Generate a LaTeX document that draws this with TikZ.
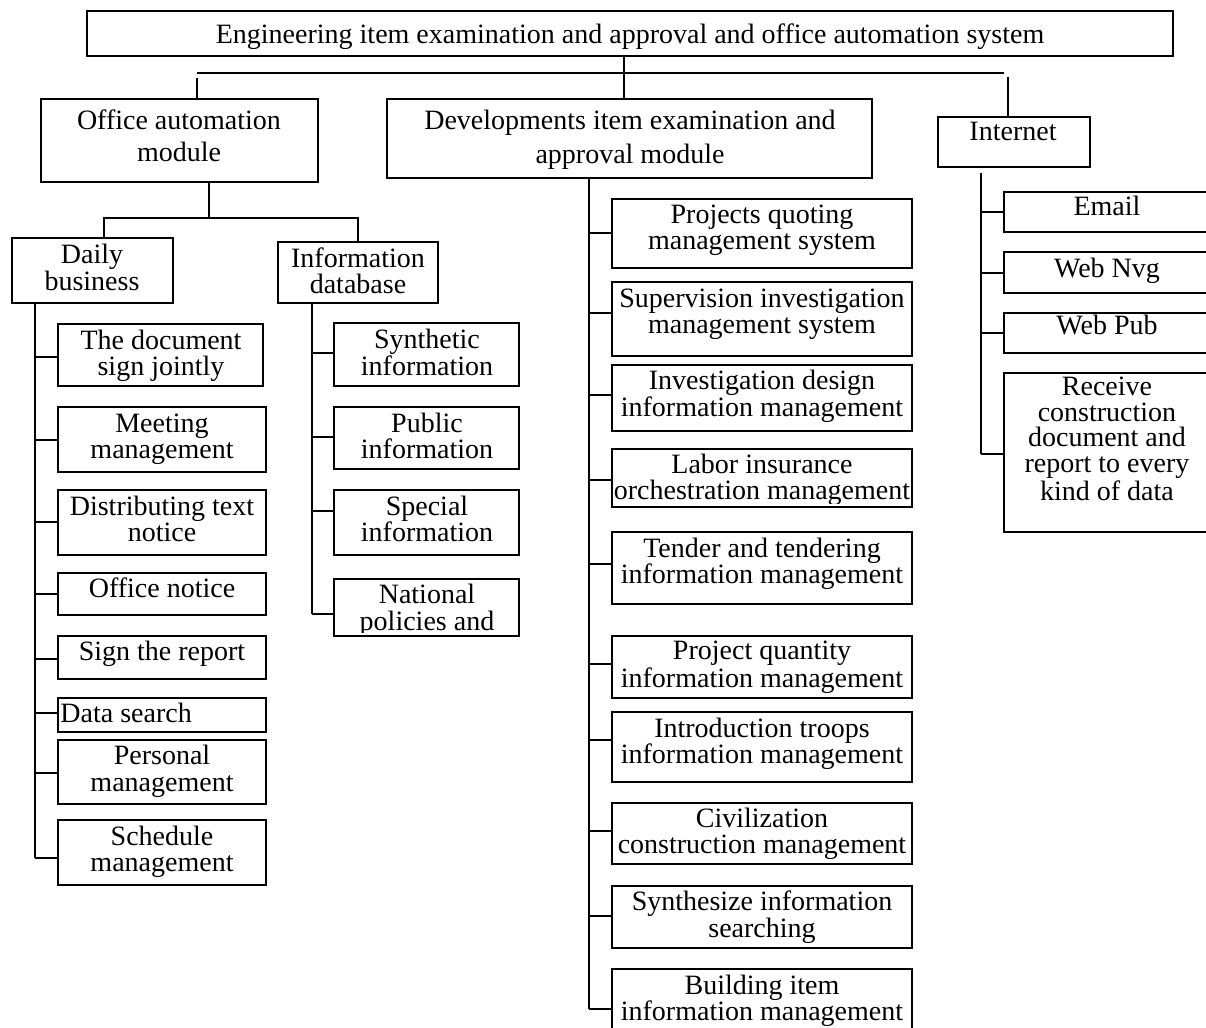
\documentclass[tikz,border=0pt]{standalone}
\usepackage{fontspec}
\setmainfont{Liberation Serif}
\newcommand\mkbox[5]{\node[bx, minimum width={(#4-#2)*0.5pt}, minimum height={(#5-#3)*0.5pt}] (#1) at ({(#2+#4)/2},{(#3+#5)/2}) {};}
\newcommand\mkbr[4]{\coordinate (#1-j) at (#2,#3); \draw[ln] (#1-j) -- (#1-j -| #4.west);}
\begin{document}
\begin{tikzpicture}[x=0.5pt,y=-0.5pt,
  bx/.style={draw, line width=1pt, inner sep=0pt, outer sep=0pt},
  tx/.style={font=\fontsize{14}{13}\selectfont, align=center, anchor=base, inner sep=0pt},
  ln/.style={line width=1pt}]
\useasboundingbox (0,0) rectangle (1206,1028);
\fill[white] (0,0) rectangle (1206,1028);

% ---------- level 0 and 1 boxes (text y = baseline of last line)
\mkbox{top}{87}{11}{1173}{56}
\begin{scope}
\clip (87,11) rectangle (1173,48);
\node[tx] (ttop) at (630,43) {Engineering item examination and approval and office automation system};
\end{scope}

\mkbox{oa}{41}{99}{318}{182}
\node[tx, font=\fontsize{14}{16}\selectfont] (toa) at (179,161) {Office automation\\module};
\mkbox{dev}{387}{99}{872}{178}
\node[tx, font=\fontsize{14}{17}\selectfont] (tdev) at (630,163) {Developments item examination and\\approval module};
\mkbox{net}{938}{117}{1090}{167}
\node[tx] (tnet) at (1013,140) {Internet};

\mkbox{daily}{12}{238}{173}{303}
\node[tx, font=\fontsize{14}{13.5}\selectfont] (tdaily) at (92,290) {Daily\\business};
\mkbox{infodb}{278}{242}{438}{303}
\node[tx] (tinfodb) at (358,293) {Information\\database};

% ---------- daily business items
\mkbox{d1}{58}{324}{263}{386}
\node[tx] (td1) at (161,375) {The document\\sign jointly};
\mkbox{d2}{58}{407}{266}{472}
\node[tx] (td2) at (162,458) {Meeting\\management};
\mkbox{d3}{58}{490}{266}{555}
\node[tx] (td3) at (162,541) {Distributing text\\notice};
\mkbox{d4}{58}{573}{266}{615}
\node[tx] (td4) at (162,597) {Office notice};
\mkbox{d5}{58}{636}{266}{679}
\node[tx] (td5) at (162,660) {Sign the report};
\mkbox{d6}{58}{698}{266}{732}
\node[tx, anchor=base west] (td6) at (60,722) {Data search};
\mkbox{d7}{58}{740}{266}{804}
\node[tx, font=\fontsize{14}{13.5}\selectfont] (td7) at (162,791) {Personal\\management};
\mkbox{d8}{58}{820}{266}{885}
\node[tx] (td8) at (162,871) {Schedule\\management};

% ---------- information database items
\mkbox{i1}{334}{323}{519}{386}
\node[tx, font=\fontsize{14}{13.5}\selectfont] (ti1) at (427,375) {Synthetic\\information};
\mkbox{i2}{334}{407}{519}{469}
\node[tx] (ti2) at (427,458) {Public\\information};
\mkbox{i3}{334}{490}{519}{555}
\node[tx] (ti3) at (427,541) {Special\\information};
\mkbox{i4}{334}{579}{519}{636}
\begin{scope}
\clip (334,579) rectangle (519,632);
\node[tx, font=\fontsize{14}{13.5}\selectfont] (ti4) at (427,630) {National\\policies and};
\end{scope}

% ---------- development items
\mkbox{p1}{612}{199}{912}{268}
\node[tx] (tp1) at (762,249) {Projects quoting\\management system};
\mkbox{p2}{612}{282}{912}{356}
\node[tx] (tp2) at (762,333) {Supervision investigation\\management system};
\mkbox{p3}{612}{365}{912}{431}
\node[tx, font=\fontsize{14}{13.5}\selectfont] (tp3) at (762,416) {Investigation design\\information management};
\mkbox{p4}{612}{449}{912}{507}
\begin{scope}
\clip (612,449) rectangle (912,503);
\node[tx] (tp4) at (762,499) {Labor insurance\\orchestration management};
\end{scope}
\mkbox{p5}{612}{532}{912}{604}
\node[tx] (tp5) at (762,583) {Tender and tendering\\information management};
\mkbox{p6}{612}{636}{912}{698}
\node[tx, font=\fontsize{14}{12.5}\selectfont] (tp6) at (762,687) {Project quantity\\information management};
\mkbox{p7}{612}{712}{912}{782}
\node[tx] (tp7) at (762,763) {Introduction troops\\information management};
\mkbox{p8}{612}{803}{912}{864}
\node[tx] (tp8) at (762,853) {Civilization\\construction management};
\mkbox{p9}{612}{886}{912}{948}
\node[tx, font=\fontsize{14}{13.5}\selectfont] (tp9) at (762,937) {Synthesize information\\searching};
\mkbox{p10}{612}{969}{912}{1040}
\node[tx] (tp10) at (762,1020) {Building item\\information management};

% ---------- internet items
\mkbox{e1}{1004}{192}{1210}{232}
\node[tx] (te1) at (1107,215) {Email};
\mkbox{e2}{1004}{252}{1210}{293}
\node[tx] (te2) at (1107,277) {Web Nvg};
\mkbox{e3}{1004}{313}{1210}{353}
\node[tx] (te3) at (1107,334) {Web Pub};
\mkbox{e4}{1004}{373}{1210}{532}
\node[tx, font=\fontsize{14}{12.75}\selectfont] (te4) at (1107,500) {Receive\\construction\\document and\\report to every\\kind of data};

% ---------- connectors, top levels
\coordinate (xtop) at (624,0);
\draw[ln] (top.south -| xtop) -- (dev.north -| xtop);
\coordinate (bus-l) at (197,73);
\coordinate (bus-r) at (1004,73);
\draw[ln] (bus-l) -- (bus-r);
\coordinate (oa-in) at (197,78);
\draw[ln] (oa-in) -- (oa-in |- oa.north);
\coordinate (net-in) at (1008,77);
\draw[ln] (net-in) -- (net-in |- net.north);

\coordinate (xoa) at (209,0);
\coordinate (oa-bar) at (209,218);
\draw[ln] (oa.south -| xoa) -- (oa-bar);
\coordinate (bar-l) at (104,218);
\coordinate (bar-r) at (358,218);
\draw[ln] (daily.north -| bar-l) -- (bar-l) -- (bar-r) -- (infodb.north -| bar-r);

% ---------- branches
\mkbr{d1}{35}{357}{d1}
\mkbr{d2}{35}{440}{d2}
\mkbr{d3}{35}{522}{d3}
\mkbr{d4}{35}{594}{d4}
\mkbr{d5}{35}{659}{d5}
\mkbr{d6}{35}{713}{d6}
\mkbr{d7}{35}{773}{d7}
\mkbr{d8}{35}{858}{d8}
\draw[ln] (daily.south -| d1-j) -- (d8-j);

\mkbr{i1}{312}{353}{i1}
\mkbr{i2}{312}{437}{i2}
\mkbr{i3}{312}{511}{i3}
\mkbr{i4}{312}{614}{i4}
\draw[ln] (infodb.south -| i1-j) -- (i4-j);

\mkbr{p1}{589}{233}{p1}
\mkbr{p2}{589}{313}{p2}
\mkbr{p3}{589}{395}{p3}
\mkbr{p4}{589}{480}{p4}
\mkbr{p5}{589}{564}{p5}
\mkbr{p6}{589}{664}{p6}
\mkbr{p7}{589}{740}{p7}
\mkbr{p8}{589}{831}{p8}
\mkbr{p9}{589}{916}{p9}
\mkbr{p10}{589}{1009}{p10}
\draw[ln] (dev.south -| p1-j) -- (p10-j);

\mkbr{e1}{981}{212}{e1}
\mkbr{e2}{981}{273}{e2}
\mkbr{e3}{981}{333}{e3}
\mkbr{e4}{981}{454}{e4}
\coordinate (net-sp) at (981,173);
\draw[ln] (net-sp) -- (e4-j);
\end{tikzpicture}
\end{document}
